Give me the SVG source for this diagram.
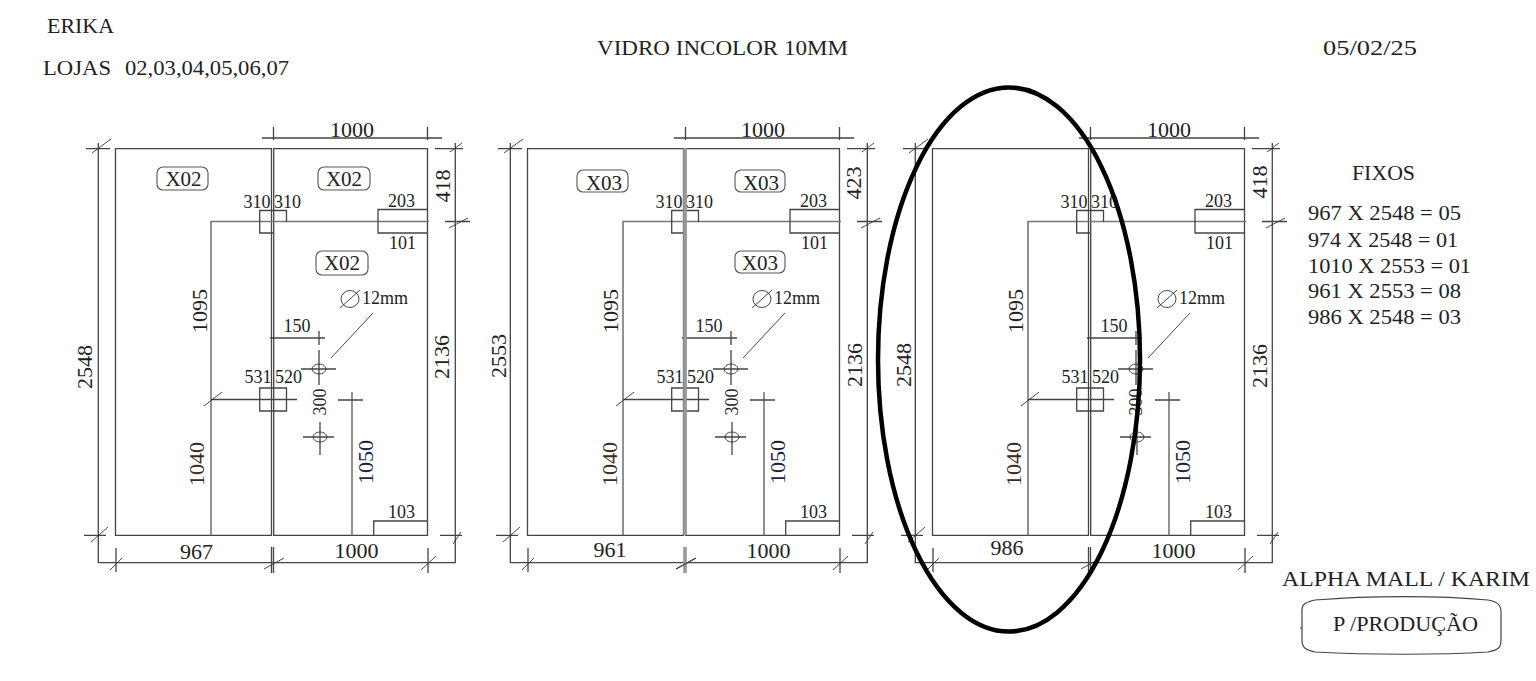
<svg xmlns="http://www.w3.org/2000/svg" width="1536" height="681" viewBox="0 0 1536 681">
<style>
text{font-family:"Liberation Serif","Times New Roman",serif;fill:#222}
.l{font-size:22px}.m{font-size:22px}.x{font-size:21px}.s{font-size:18px}.h{font-size:22px}
.e{text-anchor:middle}
.k{fill:none;stroke:#444;stroke-width:1.3}
.g{fill:none;stroke:#777;stroke-width:1.6}
.d{fill:none;stroke:#999;stroke-width:3.6}
.t{fill:none;stroke:#333;stroke-width:.9}
.b{fill:#fff;stroke:#555;stroke-width:1.1}
</style>
<defs>
<g id="sheet">
<path class="k" d="M115.5 148.7H271.5V535.3H115.5ZM273.7 148.7H427.5V535.3H273.7Z"/>
<path class="g" d="M211 535.3V221.5H429M352 535.3V392"/>
<path class="k" d="M98.3 143V562.7H455.3V143M262 138H442M273.5 127V140M427.5 127V140M86 148.7H110M435 148.7H463M445 221.5H470M84 535.3H106M440 535.3H462M116 548V572M428 548V573"/>
<path class="k" d="M273 233H259.7V210.5H286.5V222M428 209.5H378V233H428M373.7 535V521H428M211 399.5H297M259.7 388H286.5V411H259.7ZM338 400H363M270 338H325M319 331V345"/>
<path class="t" d="M92 153L111 139M449 228L468 218M450 152L462 143M91 542L108 527M453 544L461 532M204 406L222 392M110 570L122 558M264 569L284 558M421 570L436 556M331 358L373 313M340 308L360 290"/>
<ellipse class="t" cx="350" cy="299" rx="9" ry="8.500"/>
<path class="k" d="M319 350V385M301 369H336M320 422V455M303 437H334"/>
<ellipse class="t" cx="319" cy="369" rx="7" ry="5"/>
<ellipse class="t" cx="320" cy="437" rx="7" ry="5"/>
</g>
</defs>

<g id="header">
<text class="h" x="47" y="33" textLength="67" lengthAdjust="spacingAndGlyphs">ERIKA</text>
<text class="h" x="43" y="75" textLength="68" lengthAdjust="spacingAndGlyphs">LOJAS</text>
<text class="h" x="125" y="75" textLength="164" lengthAdjust="spacingAndGlyphs">02,03,04,05,06,07</text>
<text class="h" x="597" y="55" textLength="251" lengthAdjust="spacingAndGlyphs">VIDRO INCOLOR 10MM</text>
<text class="h" x="1323" y="55" textLength="94" lengthAdjust="spacingAndGlyphs">05/02/25</text>
</g>

<g id="drawing-1">
<use href="#sheet"/>
<path class="k" d="M271.500 547V573M273.500 547V573"/>
<rect class="b" x="157" y="167" width="51" height="23" rx="6"/>
<rect class="b" x="318" y="167" width="52" height="23" rx="6"/>
<rect class="b" x="316" y="251" width="52" height="24" rx="6"/>
<text class="x e" x="183.500" y="186">X02</text><text class="x e" x="344" y="186">X02</text><text class="x e" x="342" y="270">X02</text>
<text class="l e" x="352" y="137">1000</text><text class="l e" x="196.500" y="559">967</text><text class="l e" x="356.500" y="558">1000</text>
<text class="s e" x="257" y="208">310</text><text class="s e" x="287.500" y="208">310</text><text class="s e" x="401.500" y="207">203</text><text class="s e" x="402.500" y="249">101</text>
<text class="s e" x="297" y="332">150</text><text class="s e" x="258" y="383">531</text><text class="s e" x="288.500" y="383">520</text><text class="s e" x="401.500" y="518">103</text>
<text class="s" x="362" y="304">12mm</text>
<text class="l e" transform="translate(92 367) rotate(-90)">2548</text>
<text class="m e" transform="translate(450 186) rotate(-90)">418</text>
<text class="m e" transform="translate(449 357) rotate(-90)">2136</text>
<text class="m e" transform="translate(207 311) rotate(-90)">1095</text>
<text class="m e" transform="translate(204 464) rotate(-90)" style="fill:#3a2a20">1040</text>
<text class="m e" transform="translate(373 462) rotate(-90)" style="fill:#1a2440">1050</text>
<text class="s e" transform="translate(326 402) rotate(-90)">300</text>
</g>

<g id="drawing-2" transform="translate(412 0)">
<use href="#sheet"/>
<path class="d" d="M273 148V535M273 547V573"/>
<path class="k" d="M264 569L284 558"/>
<rect class="b" x="165" y="170" width="51" height="22" rx="6"/>
<rect class="b" x="323" y="170" width="50" height="22" rx="6"/>
<rect class="b" x="323" y="251" width="50" height="22" rx="6"/>
<text class="x e" x="192" y="190">X03</text><text class="x e" x="349" y="190">X03</text><text class="x e" x="348" y="270">X03</text>
<text class="l e" x="351" y="137">1000</text><text class="l e" x="198" y="557">961</text><text class="l e" x="356.500" y="558">1000</text>
<text class="s e" x="257" y="208">310</text><text class="s e" x="287.500" y="208">310</text><text class="s e" x="401.500" y="207">203</text><text class="s e" x="402.500" y="249">101</text>
<text class="s e" x="297" y="332">150</text><text class="s e" x="258" y="383">531</text><text class="s e" x="288.500" y="383">520</text><text class="s e" x="401.500" y="518">103</text>
<text class="s" x="362" y="304">12mm</text>
<text class="l e" transform="translate(94 356) rotate(-90)">2553</text>
<text class="m e" transform="translate(449 183) rotate(-90)">423</text>
<text class="m e" transform="translate(450 365) rotate(-90)">2136</text>
<text class="m e" transform="translate(206 311) rotate(-90)">1095</text>
<text class="m e" transform="translate(205 464) rotate(-90)" style="fill:#3a2a20">1040</text>
<text class="m e" transform="translate(373 462) rotate(-90)" style="fill:#1a2440">1050</text>
<text class="s e" transform="translate(326 402) rotate(-90)">300</text>
</g>

<g id="drawing-3" transform="translate(817 0)">
<use href="#sheet"/>
<path class="k" d="M271.500 547V573M273.500 547V573"/>
<text class="l e" x="352" y="137">1000</text><text class="l e" x="190" y="555">986</text><text class="l e" x="356.500" y="558">1000</text>
<text class="s e" x="257" y="208">310</text><text class="s e" x="287.500" y="208">310</text><text class="s e" x="401.500" y="207">203</text><text class="s e" x="402.500" y="249">101</text>
<text class="s e" x="297" y="332">150</text><text class="s e" x="258" y="383">531</text><text class="s e" x="288.500" y="383">520</text><text class="s e" x="401.500" y="518">103</text>
<text class="s" x="362" y="304">12mm</text>
<text class="m e" transform="translate(94 365) rotate(-90)">2548</text>
<text class="m e" transform="translate(450 182) rotate(-90)">418</text>
<text class="m e" transform="translate(450 366) rotate(-90)">2136</text>
<text class="m e" transform="translate(206 311) rotate(-90)">1095</text>
<text class="m e" transform="translate(204 464) rotate(-90)" style="fill:#3a2a20">1040</text>
<text class="m e" transform="translate(373 462) rotate(-90)" style="fill:#1a2440">1050</text>
<text class="s e" transform="translate(325 402) rotate(-90)">300</text>
</g>

<ellipse id="highlight" cx="1009" cy="359.500" rx="131" ry="272" fill="none" stroke="#000" stroke-width="4.500"/>

<g id="fixos">
<text class="h" x="1352" y="180" textLength="63" lengthAdjust="spacingAndGlyphs">FIXOS</text>
<text class="h" x="1308" y="220" textLength="153" lengthAdjust="spacingAndGlyphs">967 X 2548 = 05</text>
<text class="h" x="1308" y="247" textLength="150" lengthAdjust="spacingAndGlyphs">974 X 2548 = 01</text>
<text class="h" x="1308" y="273" textLength="163" lengthAdjust="spacingAndGlyphs">1010 X 2553 = 01</text>
<text class="h" x="1308" y="298" textLength="153" lengthAdjust="spacingAndGlyphs">961 X 2553 = 08</text>
<text class="h" x="1308" y="324" textLength="153" lengthAdjust="spacingAndGlyphs">986 X 2548 = 03</text>
</g>

<g id="footer">
<text class="h" x="1282" y="586" textLength="248" lengthAdjust="spacingAndGlyphs">ALPHA MALL / KARIM</text>
<path d="M1302 610C1302 604 1306 602 1315 600C1370 595.500 1440 595.500 1488 600C1498 602 1501 605 1501 612V640C1501 648 1498 650 1488 652C1440 655 1370 655 1315 652C1306 650 1302 648 1302 640ZM1300 628H1302" fill="#fff" stroke="#444" stroke-width="1.200"/>
<text class="h" x="1333" y="631" textLength="145" lengthAdjust="spacingAndGlyphs">P /PRODUÇÃO</text>
</g>
</svg>
